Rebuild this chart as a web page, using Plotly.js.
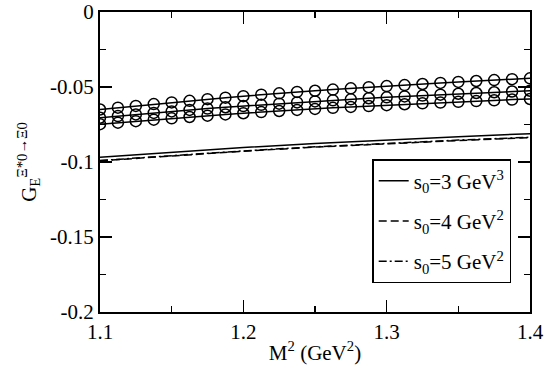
<!DOCTYPE html>
<html>
<head>
<meta charset="utf-8">
<script src="https://cdn.plot.ly/plotly-3.0.1.min.js"></script>
<style>body{margin:0;background:#fff}#chart{width:545px;height:368px}</style>
</head>
<body>
<div id="chart"></div>
<script>
// M^2 grid for the circle curves (GeV^2)
const m2Circ = [1.1, 1.1125, 1.125, 1.1375, 1.15, 1.1625, 1.175, 1.1875, 1.2, 1.2125, 1.225, 1.2375, 1.25,
    1.2625, 1.275, 1.2875, 1.3, 1.3125, 1.325, 1.3375, 1.35, 1.3625, 1.375, 1.3875, 1.4];
const circTop = [-0.065, -0.0638, -0.0626, -0.0614, -0.0603, -0.0592, -0.0581, -0.0571, -0.0561, -0.0551, -0.0542, -0.0533, -0.0525,
    -0.0517, -0.0509, -0.0501, -0.0494, -0.0487, -0.048, -0.0473, -0.0466, -0.046, -0.0454, -0.0448, -0.0442];
const circMid = [-0.0705, -0.0694, -0.0683, -0.0673, -0.0663, -0.0653, -0.0644, -0.0635, -0.0627, -0.0619, -0.0611, -0.0603, -0.0596,
    -0.0589, -0.0582, -0.0575, -0.0569, -0.0563, -0.0557, -0.0551, -0.0545, -0.054, -0.0535, -0.053, -0.0525];
const circBot = [-0.0748, -0.0738, -0.0728, -0.0718, -0.0709, -0.07, -0.0691, -0.0683, -0.0675, -0.0667, -0.066, -0.0653, -0.0646,
    -0.0639, -0.0633, -0.0627, -0.0621, -0.0615, -0.0609, -0.0604, -0.0599, -0.0594, -0.0589, -0.0584, -0.058];

// plain curves
const m2 = [1.1, 1.15, 1.2, 1.25, 1.3, 1.35, 1.4];
const s3 = [-0.0968, -0.0935, -0.0904, -0.0876, -0.0852, -0.0831, -0.0811];
const s4 = [-0.0992, -0.0959, -0.0928, -0.0901, -0.0877, -0.0857, -0.0838];
const s5 = [-0.0990, -0.0957, -0.0926, -0.0899, -0.0875, -0.0854, -0.0835];

const yTicks = [0, -0.05, -0.1, -0.15, -0.2];
const yTickText = ['0', '-0.05', '-0.1', '-0.15', '-0.2'];

const serif = 'Times New Roman, Liberation Serif, DejaVu Serif, serif';
const blk = '#000';

const circleStyle = {symbol: 'circle-open', size: 11, color: blk, line: {width: 1.5, color: blk}};

const traces = [
    {x: m2, y: s3, mode: 'lines', name: 's<sub>0</sub>=3 GeV<sup>3</sup>', legendgroup: 'a', line: {color: blk, width: 1.5}},
    {x: m2, y: s4, mode: 'lines', name: 's<sub>0</sub>=4 GeV<sup>2</sup>', legendgroup: 'b', line: {color: blk, width: 1.5, dash: '8px,4px'}},
    {x: m2, y: s5, mode: 'lines', name: 's<sub>0</sub>=5 GeV<sup>2</sup>', legendgroup: 'c', line: {color: blk, width: 1.5, dash: '8px,3px,2px,3px'}},
    {x: m2Circ, y: circTop, mode: 'lines+markers', showlegend: false, line: {color: blk, width: 1.5}, marker: circleStyle},
    {x: m2Circ, y: circMid, mode: 'lines+markers', showlegend: false, line: {color: blk, width: 1.5}, marker: circleStyle},
    {x: m2Circ, y: circBot, mode: 'lines+markers', showlegend: false, line: {color: blk, width: 1.5}, marker: circleStyle}
];

const axisBase = {
    showgrid: false, zeroline: false, showline: true, mirror: 'ticks',
    linecolor: blk, linewidth: 2, ticks: 'inside', ticklen: 12, tickwidth: 1.5, tickcolor: blk,
    tickfont: {family: serif, size: 21, color: blk}, ticklabeloverflow: 'allow',
    minor: {ticks: 'inside', ticklen: 6, tickwidth: 1.5, tickcolor: blk, showgrid: false}
};

const layout = {
    width: 545, height: 368,
    margin: {l: 100, r: 15, t: 12, b: 56},
    paper_bgcolor: '#fff', plot_bgcolor: '#fff',
    font: {family: serif, color: blk},
    showlegend: true,
    legend: {
        x: 0.633, y: 0.51, xanchor: 'left', yanchor: 'top',
        bordercolor: blk, borderwidth: 1.5, bgcolor: '#fff',
        font: {family: serif, size: 21, color: blk},
        itemwidth: 30, tracegroupgap: 10
    },
    xaxis: Object.assign({}, axisBase, {
        range: [1.1, 1.4], dtick: 0.1, tick0: 1.1, tickformat: '.1f',
        minor: Object.assign({}, axisBase.minor, {dtick: 0.05}),
        title: {text: 'M<sup>2</sup> (GeV<sup>2</sup>)', font: {family: serif, size: 21, color: blk}, standoff: 2}
    }),
    yaxis: Object.assign({}, axisBase, {
        range: [-0.2, 0],
        tickmode: 'array', tickvals: yTicks, ticktext: yTickText,
        minor: Object.assign({}, axisBase.minor, {tickmode: 'linear', tick0: 0, dtick: 0.025}),
        title: {text: 'G<sub>E</sub><sup>Ξ*0→Ξ0</sup>', font: {family: serif, size: 21, color: blk}, standoff: 8}
    })
};

Plotly.newPlot('chart', traces, layout, {displayModeBar: false, staticPlot: true});
</script>
</body>
</html>
